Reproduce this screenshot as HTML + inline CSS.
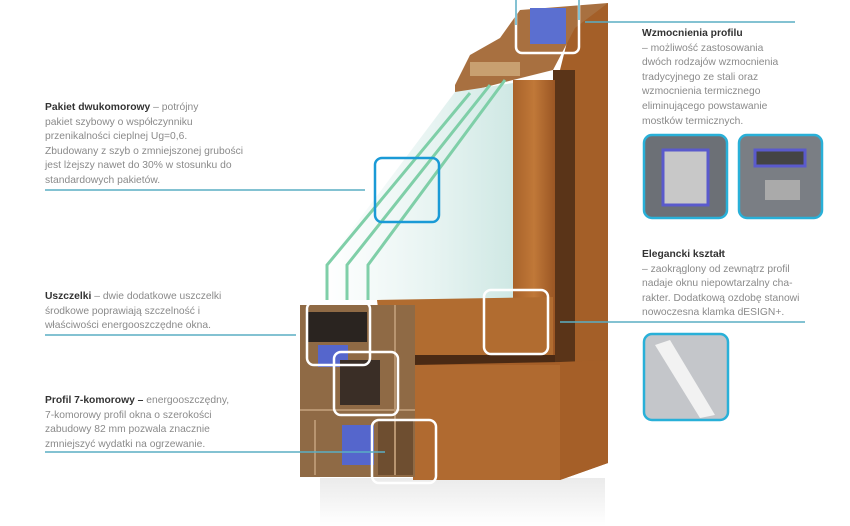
<!DOCTYPE html>
<html><head><meta charset="utf-8"><style>
body{margin:0;width:850px;height:526px;overflow:hidden;background:#fff;position:relative;font-family:"Liberation Sans",sans-serif}
.t{position:absolute;font-size:10.3px;line-height:14.6px;color:#8a8a8a;white-space:nowrap}
.t b{color:#333;font-weight:bold}
</style></head><body>
<svg width="850" height="526" style="position:absolute;left:0;top:0">
<defs>
<linearGradient id="wood" x1="0" y1="0" x2="1" y2="0"><stop offset="0" stop-color="#a8622a"/><stop offset=".5" stop-color="#c07838"/><stop offset="1" stop-color="#9a5624"/></linearGradient>
<linearGradient id="glass" x1="0" y1="0" x2="1" y2="0"><stop offset="0" stop-color="#fff"/><stop offset=".6" stop-color="#e6f3f1"/><stop offset="1" stop-color="#cfe8e4"/></linearGradient>
<linearGradient id="refl" x1="0" y1="0" x2="0" y2="1"><stop offset="0" stop-color="#ddd"/><stop offset="1" stop-color="#fff"/></linearGradient>
</defs>
<rect x="320" y="478" width="285" height="48" fill="url(#refl)" opacity=".6"/>
<polygon points="575,10 608,3 608,463 560,480 560,70" fill="#a45f28"/>
<rect x="553" y="70" width="22" height="300" fill="#5a3418"/>
<polygon points="455,85 470,55 500,38 520,10 608,3 575,28 553,70 513,80 455,95" fill="#a87040"/>
<rect x="530" y="8" width="36" height="36" fill="#5b6fd0"/>
<rect x="470" y="62" width="50" height="14" fill="#c8a070"/>
<rect x="513" y="80" width="42" height="290" fill="url(#wood)"/>
<polygon points="455,92 513,83 513,300 325,300 325,265" fill="url(#glass)"/>
<g stroke="#7fcfa8" stroke-width="3" fill="none">
<polyline points="327,300 327,265 470,93"/>
<polyline points="347,300 347,265 490,85"/>
<polyline points="368,300 368,265 505,80"/>
</g>
<path d="M377,300 L553,297 L553,358 L400,363 Q380,330 377,300Z" fill="#b16c30"/>
<rect x="400" y="355" width="155" height="10" fill="#4a2a14"/>
<polygon points="413,365 560,362 608,360 608,463 560,480 413,480" fill="#a55f28"/>
<rect x="413" y="365" width="147" height="115" fill="#b06a30"/>
<rect x="300" y="305" width="115" height="172" fill="#8f6a45"/>
<rect x="307" y="312" width="60" height="30" fill="#2a2420"/>
<rect x="318" y="345" width="30" height="22" fill="#5566cc"/>
<rect x="340" y="360" width="40" height="45" fill="#3a2e26"/>
<rect x="342" y="425" width="32" height="40" fill="#5566cc"/>
<rect x="378" y="420" width="35" height="55" fill="#6e4e30"/>
<g stroke="#b89570" stroke-width="2" fill="none">
<line x1="300" y1="410" x2="415" y2="410"/><line x1="315" y1="420" x2="315" y2="475"/><line x1="395" y1="305" x2="395" y2="475"/>
</g>
<g fill="none" stroke="#fff" stroke-width="2.5">
<rect x="516" y="-5" width="63" height="58" rx="6"/>
<rect x="484" y="290" width="64" height="64" rx="7"/>
<rect x="307" y="302" width="63" height="63" rx="7"/>
<rect x="334" y="352" width="64" height="63" rx="7"/>
<rect x="372" y="420" width="64" height="63" rx="7"/>
</g>
<rect x="375" y="158" width="64" height="64" rx="7" fill="none" stroke="#1a9ad6" stroke-width="2.5"/>
<g stroke="#5aaec4" stroke-width="1.5">
<line x1="45" y1="190" x2="365" y2="190"/>
<line x1="45" y1="335" x2="296" y2="335"/>
<line x1="45" y1="452" x2="385" y2="452"/>
<line x1="516" y1="0" x2="516" y2="25"/>
<line x1="579" y1="0" x2="579" y2="20"/>
<line x1="585" y1="22" x2="795" y2="22"/>
<line x1="560" y1="322" x2="805" y2="322"/>
</g>
<g stroke="#29b0d8" stroke-width="2.5">
<rect x="644" y="135" width="83" height="83" rx="8" fill="#6c7076"/>
<rect x="739" y="135" width="83" height="83" rx="8" fill="#7a7e84"/>
<rect x="644" y="334" width="84" height="86" rx="8" fill="#c4c6ca"/>
</g>
<rect x="663" y="150" width="45" height="55" fill="#c8c8c8" stroke="#5a5acc" stroke-width="3"/>
<rect x="755" y="150" width="50" height="16" fill="#444" stroke="#5a5acc" stroke-width="3"/>
<rect x="765" y="180" width="35" height="20" fill="#aaa"/>
<polygon points="655,345 670,340 715,415 700,418" fill="#f2f2f2"/>
</svg>
<div class="t" style="left:45px;top:101px"><b>Pakiet dwukomorowy</b> – potrójny<br>pakiet szybowy o współczynniku<br>przenikalności cieplnej Ug=0,6.<br>Zbudowany z szyb o zmniejszonej grubości<br>jest lżejszy nawet do 30% w stosunku do<br>standardowych pakietów.</div>
<div class="t" style="left:45px;top:290px"><b>Uszczelki</b> – dwie dodatkowe uszczelki<br>środkowe poprawiają szczelność i<br>właściwości energooszczędne okna.</div>
<div class="t" style="left:45px;top:394px"><b>Profil 7-komorowy –</b> energooszczędny,<br>7-komorowy profil okna o szerokości<br>zabudowy 82 mm pozwala znacznie<br>zmniejszyć wydatki na ogrzewanie.</div>
<div class="t" style="left:642px;top:27px"><b>Wzmocnienia profilu</b><br>– możliwość zastosowania<br>dwóch rodzajów wzmocnienia<br>tradycyjnego ze stali oraz<br>wzmocnienia termicznego<br>eliminującego powstawanie<br>mostków termicznych.</div>
<div class="t" style="left:642px;top:248px"><b>Elegancki kształt</b><br>– zaokrąglony od zewnątrz profil<br>nadaje oknu niepowtarzalny cha-<br>rakter. Dodatkową ozdobę stanowi<br>nowoczesna klamka dESIGN+.</div>
</body></html>
